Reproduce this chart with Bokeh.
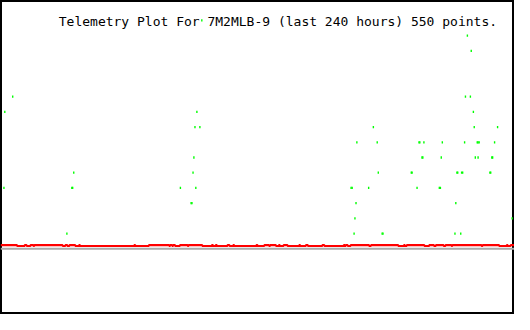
from bokeh.plotting import figure
from bokeh.models import Range1d, Span, Label
from bokeh.embed import file_html
from bokeh.resources import INLINE

TITLE = "Telemetry Plot For 7M2MLB-9 (last 240 hours) 550 points."

# Green telemetry channel: hours (0..240 window) and level values
green_hours = [5.7, 2.0, 91.7, 90.8, 93.1, 90.3, 34.2, 89.9, 1.6, 33.3, 33.7, 84.0,
               91.2, 89.0, 89.4, 31.0, 94.0,
               217.1, 219.4, 218.0, 219.8, 220.8, 174.1, 221.2, 232.1,
               166.4, 175.9, 195.4, 195.8, 197.7, 206.3, 216.7, 222.6, 223.0, 223.5, 230.7,
               196.8, 197.2, 205.8, 221.7, 223.0, 229.4, 229.8,
               176.4, 191.8, 192.2, 213.1, 213.5, 215.3, 215.8, 228.5, 228.9,
               163.7, 164.2, 171.9, 194.5, 204.9, 205.4,
               166.0, 212.6, 165.5, 238.9, 165.1, 178.2, 178.6, 212.2, 214.9]
green_values = [10, 9, 9, 8, 8, 6, 5, 5, 4, 4, 4, 4,
                4, 3, 3, 1, 15,
                10, 10, 14, 13, 9, 8, 8, 8,
                7, 7, 7, 7, 7, 7, 7, 7, 7, 7, 7,
                6, 6, 6, 6, 6, 6, 6,
                5, 5, 5, 5, 5, 5, 5, 5, 5,
                4, 4, 4, 4, 4, 4,
                3, 3, 2, 2, 1, 1, 1, 1, 1]

# Red telemetry channel: hours where the value changes, and the value from there on
red_hours = [0.0, 7.7, 11.3, 12.2, 14.0, 15.4, 15.8, 29.0, 30.3, 31.2, 32.2, 34.9,
             36.7, 37.1, 62.5, 62.9, 69.3, 78.8, 79.2, 80.2, 80.6, 81.5, 83.8, 87.4,
             87.8, 94.2, 98.7, 99.2, 100.5, 101.0, 106.0, 106.9, 108.7, 109.1, 119.5,
             120.0, 123.2, 125.4, 125.9, 128.6, 130.0, 130.4, 132.2, 134.0, 139.5,
             139.9, 142.6, 143.5, 150.3, 151.2, 160.3, 160.8, 161.2, 162.1, 163.5,
             172.1, 173.0, 185.7, 188.4, 188.8, 189.7, 197.9, 200.2, 202.4, 203.3,
             206.9, 207.8, 210.6, 211.0, 224.6, 225.1, 232.8, 236.4, 236.8, 238.2, 240.0]
red_values = [0.25, 0.1875] * 37 + [0.25, 0.25]

BASELINE = 0.0

p = figure(width=514, height=314, x_range=Range1d(0, 240), y_range=Range1d(-4.3125, 16.3125),
           x_axis_type=None, y_axis_type=None, output_backend="svg", toolbar_location=None,
           min_border=0)
p.grid.visible = False
p.background_fill_color = "white"
p.border_fill_color = "white"
p.outline_line_color = "black"
p.outline_line_width = 3

p.add_layout(Span(location=BASELINE, dimension="width", line_color="#a9a9a9", line_width=2))
p.step(red_hours, red_values, mode="after", line_color="#ff0000", line_width=2.2)
p.rect(x=green_hours, y=green_values, width=0.65, height=0.15,
       fill_color="#00ff00", line_color=None)

p.add_layout(Label(x=27.2, y=14.94, text=TITLE, text_font="DejaVu Sans Mono",
                   text_font_size="13px", text_color="black", text_baseline="alphabetic"))

open("out.html", "w").write(file_html(p, INLINE))
